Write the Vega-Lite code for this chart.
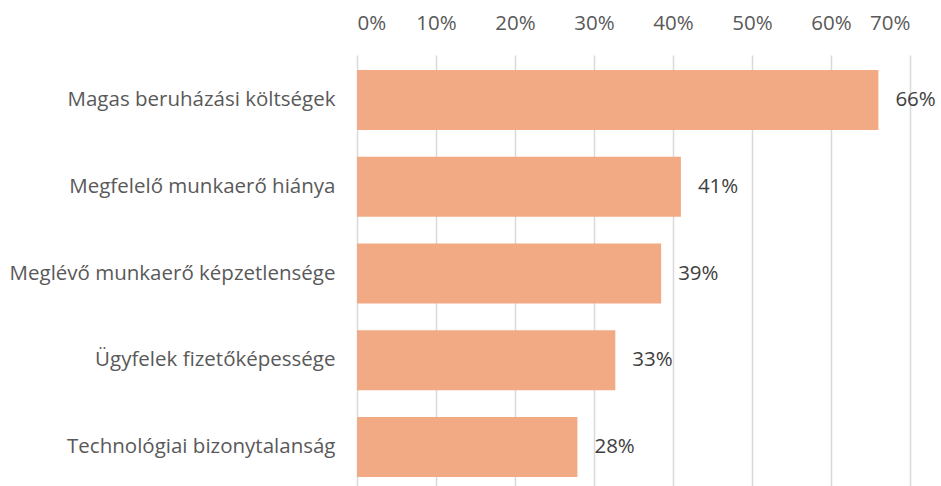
{
  "$schema": "https://vega.github.io/schema/vega-lite/v6.json",
  "autosize": "none",
  "width": 553,
  "height": 437,
  "padding": {"left": 357, "top": 55, "right": 31, "bottom": -6},
  "background": "white",
  "config": {"view": {"stroke": null}, "font": "Open Sans"},
  "data": {"values": [
    {"cat": "Magas beruházási költségek", "v": 0.66},
    {"cat": "Megfelelő munkaerő hiánya", "v": 0.41},
    {"cat": "Meglévő munkaerő képzetlensége", "v": 0.385},
    {"cat": "Ügyfelek fizetőképessége", "v": 0.327},
    {"cat": "Technológiai bizonytalanság", "v": 0.279}
  ]},
  "encoding": {
    "y": {"field": "cat", "type": "nominal", "sort": null, "title": null,
      "scale": {"paddingInner": 0.308, "paddingOuter": 0.173},
      "axis": {"ticks": false, "domain": false, "labelFontSize": 20.5, "labelColor": "#595959", "labelPadding": 22, "labelLimit": 400}},
    "x": {"field": "v", "type": "quantitative", "title": null,
      "scale": {"domain": [0, 0.7]},
      "axis": {"orient": "top", "format": ".0%", "values": [0,0.1,0.2,0.3,0.4,0.5,0.6,0.7], "ticks": false, "domain": false, "labelFontSize": 20.5, "labelColor": "#595959", "labelPadding": 22, "gridColor": "#d9d9d9", "gridWidth": 1.5}}
  },
  "layer": [
    {"mark": {"type": "bar", "color": "#F2AA84"}},
    {"mark": {"type": "text", "align": "left", "dx": 17, "fontSize": 20.5, "color": "#404040"},
     "encoding": {"text": {"field": "v", "type": "quantitative", "format": ".0%"}}}
  ]
}
